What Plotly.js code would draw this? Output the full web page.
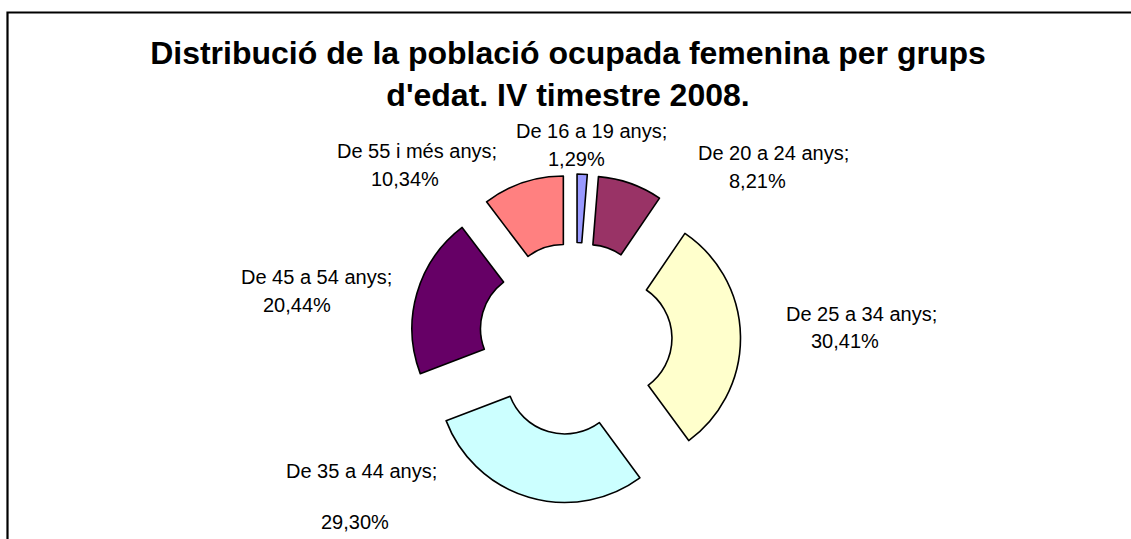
<!DOCTYPE html>
<html>
<head>
<meta charset="utf-8">
<script src="https://cdn.plot.ly/plotly-3.0.1.min.js"></script>
<style>
  html, body { margin: 0; padding: 0; background: #ffffff; }
  #chart { width: 1131px; height: 539px; }
</style>
</head>
<body>
<div id="chart"></div>
<script>
// ---- Data ----
var categories = ['De 16 a 19 anys', 'De 20 a 24 anys', 'De 25 a 34 anys', 'De 35 a 44 anys', 'De 45 a 54 anys', 'De 55 i més anys'];
var values = [1.29, 8.21, 30.41, 29.30, 20.44, 10.34];
var titleText = 'Distribució de la població ocupada femenina per grups<br>d\'edat. IV timestre 2008.';

// ---- Styles ----
var sliceColors = ['#9999FF', '#993366', '#FFFFCC', '#CCFFFF', '#660066', '#FF8080'];
var W = 1131, H = 539;
var FONT = 'Liberation Sans, Arial, sans-serif';

// label placement (pixel centres of line 1 and line 2), layout only
var labelPlacement = [
  [591, 131, 576, 159],
  [773, 153, 757, 181],
  [861, 314, 845, 341],
  [361, 471, 355, 522],
  [316, 277, 297, 305],
  [417, 151, 405, 179]
];

function fmt(v) { return v.toFixed(2).replace('.', ',') + '%'; }

var annotations = [];
categories.forEach(function (c, i) {
  var p = labelPlacement[i];
  annotations.push({
    text: c + ';', xref: 'paper', yref: 'paper', x: p[0] / W, y: 1 - p[1] / H,
    xanchor: 'center', yanchor: 'middle', showarrow: false,
    font: { family: FONT, size: 20, color: '#000000' }
  });
  annotations.push({
    text: fmt(values[i]), xref: 'paper', yref: 'paper', x: p[2] / W, y: 1 - p[3] / H,
    xanchor: 'center', yanchor: 'middle', showarrow: false,
    font: { family: FONT, size: 20, color: '#000000' }
  });
});

var trace = {
  type: 'pie',
  labels: categories,
  values: values,
  sort: false,
  direction: 'clockwise',
  rotation: 0,
  hole: 0.46,
  pull: categories.map(function () { return 0.3; }),
  textinfo: 'none',
  textposition: 'none',
  hoverinfo: 'label+percent',
  marker: { colors: sliceColors, line: { color: '#000000', width: 1.6 } },
  domain: { x: [410.5 / W, 740.5 / W], y: [1 - 504 / H, 1 - 174 / H] }
};

var layout = {
  width: W, height: H,
  margin: { l: 0, r: 0, t: 0, b: 0 },
  paper_bgcolor: '#ffffff',
  showlegend: false,
  title: {
    text: titleText,
    font: { family: FONT, size: 32, color: '#000000', weight: 'bold' },
    x: 568 / W, xanchor: 'center', xref: 'paper',
    y: 1 - 64 / H, yanchor: 'top', yref: 'container'
  },
  annotations: annotations,
  shapes: [{
    type: 'rect', xref: 'paper', yref: 'paper',
    x0: 7.5 / W, x1: 1.05, y0: -0.05, y1: 1 - 12.5 / H,
    line: { color: '#000000', width: 2.2 }, fillcolor: 'rgba(0,0,0,0)'
  }]
};

Plotly.newPlot('chart', [trace], layout, { displayModeBar: false, staticPlot: true });
</script>
</body>
</html>
